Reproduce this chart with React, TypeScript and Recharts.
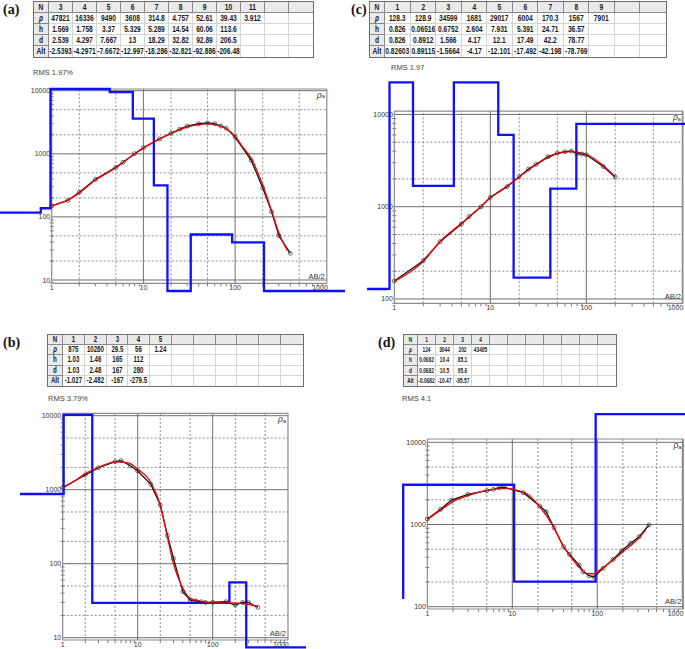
import React from 'react';
import { LineChart, Line, XAxis, YAxis, ReferenceLine, ReferenceDot } from 'recharts';

// ---------- panel (a) ----------
const aLayers = ['3', '4', '5', '6', '7', '8', '9', '10', '11'];
const aRho = ['47821', '16336', '9490', '3608', '314.8', '4.757', '52.61', '39.43', '3.912'];
const aH = ['1.569', '1.758', '3.37', '5.329', '5.289', '14.54', '60.06', '113.6'];
const aD = ['2.539', '4.297', '7.667', '13', '18.29', '32.82', '92.89', '206.5'];
const aAlt = ['-2.5393', '-4.2971', '-7.6672', '-12.997', '-18.286', '-32.821', '-92.886', '-206.48'];
// layers 1-2 are scrolled out of the table
const aHiddenRho = [117, 137];
const aHiddenD = [0.76, 0.97];
const aObsX = [1, 1.5, 2, 3, 5, 6, 8, 10, 15, 20, 25, 30, 40, 50, 60, 70, 80, 100, 150, 200, 250, 300, 400];
const aObsY = [150, 182, 245, 394, 610, 732, 1005, 1250, 1716, 2109, 2470, 2756, 3004, 3077, 3004, 2756, 2535, 1845, 787, 290, 121, 50.5, 26.5];
const aFitX = [1, 1.5, 2, 3, 5, 8, 10, 15, 20, 30, 40, 50, 60, 80, 100, 120, 150, 200, 250, 300, 372];
const aFitY = [150, 185, 240, 385, 600, 990, 1230, 1720, 2100, 2650, 2900, 2980, 2900, 2500, 1900, 1300, 850, 320, 125, 56, 29];

// ---------- panel (b) ----------
const bLayers = ['1', '2', '3', '4', '5'];
const bRho = ['875', '10280', '29.5', '56', '1.24'];
const bH = ['1.03', '1.46', '165', '112'];
const bD = ['1.03', '2.48', '167', '280'];
const bAlt = ['-1.027', '-2.482', '-167', '-279.5'];
const bObsX = [1, 2, 3, 5, 6, 8, 10, 15, 20, 25, 30, 40, 50, 60, 70, 80, 100, 150, 200, 250, 300, 400];
const bObsY = [1065, 1580, 1980, 2390, 2470, 2110, 1790, 1180, 620, 240, 118, 42, 32.3, 31.3, 30.6, 30, 30, 30.6, 27.6, 30, 30, 25.7];
const bFitX = [1, 1.5, 2, 3, 5, 7.5, 10, 15, 20, 25, 30, 38, 50, 70, 110, 190, 280, 400];
const bFitY = [1050, 1350, 1650, 2000, 2380, 2300, 1900, 1250, 620, 225, 100, 52, 34, 31, 29.5, 29.5, 28.5, 26.5];

// ---------- panel (c) ----------
const cLayers = ['1', '2', '3', '4', '5', '6', '7', '8', '9'];
const cRho = ['128.3', '128.9', '34599', '1681', '29017', '6004', '170.3', '1567', '7901'];
const cH = ['0.826', '0.06516', '0.6752', '2.604', '7.931', '5.391', '24.71', '36.57'];
const cD = ['0.826', '0.8912', '1.566', '4.17', '12.1', '17.49', '42.2', '78.77'];
const cAlt = ['0.82603', '0.89115', '-1.5664', '-4.17', '-12.101', '-17.492', '-42.198', '-78.769'];
const cObsX = [1, 2, 3, 5, 6, 8, 10, 15, 20, 25, 30, 40, 50, 60, 70, 80, 90, 100, 150, 200];
const cObsY = [157, 260, 418, 649, 780, 1000, 1262, 1650, 2115, 2560, 2875, 3487, 3816, 3945, 4010, 3760, 3717, 3650, 2730, 2090];
const cFitX = [1, 1.5, 2, 3, 5, 8, 10, 15, 20, 30, 40, 50, 70, 100, 150, 200];
const cFitY = [155, 200, 255, 420, 660, 1000, 1250, 1680, 2100, 2850, 3400, 3750, 3950, 3700, 2800, 2120];

// ---------- panel (d) ----------
const dLayers = ['1', '2', '3', '4'];
const dRho = ['124', '3044', '202', '43495'];
const dH = ['0.0682', '10.4', '85.1'];
const dD = ['0.0682', '10.5', '95.6'];
const dAlt = ['-0.0682', '-10.47', '-95.57'];
const dObsX = [1, 1.43, 1.93, 3, 5, 6, 7, 8, 13.5, 21, 25, 31, 40, 47, 61, 68, 80, 91, 117, 154, 193, 246, 311, 405];
const dObsY = [1166, 1531, 1986, 2327, 2580, 2680, 2805, 2850, 2439, 1678, 1432, 914, 537, 434, 321, 267, 238, 230, 293, 377, 476, 590, 711, 986];
const dFitX = [1, 1.5, 2, 3, 5, 8, 10, 15, 20, 30, 40, 50, 60, 75, 90, 100, 150, 200, 300, 370];
const dFitY = [1150, 1550, 1900, 2250, 2600, 2750, 2680, 2350, 1750, 960, 540, 390, 307, 255, 252, 267, 363, 467, 666, 857];

// axis ticks / grid
const xDecades = [1, 10, 100, 1000];
const xDashed = [2, 5, 20, 50, 200, 500];
const yDecadesLow = [10, 100, 1000, 10000];
const yDashedLow = [20, 50, 200, 500, 2000, 5000];
const yDecadesHigh = [100, 1000, 10000];
const yDashedHigh = [200, 500, 2000, 5000];
const minorSteps = [2, 3, 4, 5, 6, 7, 8, 9];

type Pt = { x: number; y: number };
const zip = (xs: number[], ys: number[]): Pt[] => xs.map((x, i) => ({ x, y: ys[i] }));

function stepModel(rho: number[], depth: number[], xs: number[], clamp: number[]): Pt[] {
  const c = (v: number) => Math.min(Math.max(v, clamp[0]), clamp[1]);
  const pts: Pt[] = [{ x: xs[0], y: c(rho[0]) }];
  depth.forEach((d, i) => pts.push({ x: Math.max(d, xs[0]), y: c(rho[i + 1]) }));
  pts.push({ x: xs[1], y: c(rho[rho.length - 1]) });
  return pts;
}

type PanelCfg = {
  left: number; top: number; width: number; height: number;
  xDomain: number[]; yDomain: number[];
  clamp: number[]; blueX: number[];
  frameX: number[]; frameY: number[];
  yDecades: number[]; yDashed: number[];
};

const cfgA: PanelCfg = {
  left: 0, top: 86, width: 345, height: 208,
  xDomain: [0.273, 1579], yDomain: [6.0, 11870],
  clamp: [6.69, 10640], blueX: [0.273, 1579],
  frameX: [1, 1000], frameY: [8.87, 10640],
  yDecades: yDecadesLow, yDashed: yDashedLow,
};
const cfgB: PanelCfg = {
  left: 18, top: 410, width: 288, height: 239,
  xDomain: [0.2535, 1754], yDomain: [7.04, 11940],
  clamp: [7.42, 10770], blueX: [0.27, 1754],
  frameX: [1, 1009], frameY: [9.31, 10770],
  yDecades: yDecadesLow, yDashed: yDashedLow,
};
const cfgC: PanelCfg = {
  left: 365, top: 80, width: 320, height: 232,
  xDomain: [0.495, 1067], yDomain: [72.3, 23590],
  clamp: [89.8, 22280], blueX: [0.52, 1067],
  frameX: [1, 1015], frameY: [89.8, 10860],
  yDecades: yDecadesHigh, yDashed: yDashedHigh,
};
const cfgD: PanelCfg = {
  left: 401, top: 411, width: 284, height: 209,
  xDomain: [0.49, 1076], yDomain: [68.9, 24040],
  clamp: [93.8, 22080], blueX: [0.52, 1076],
  frameX: [1, 1028], frameY: [93.8, 10970],
  yDecades: yDecadesHigh, yDashed: yDashedHigh,
};

const num = (a: string[]) => a.map(Number);

const GRID = '#6f6f6f';
const FRAME = '#8c8c8c';
const LABEL_FONT = '"Liberation Sans", Arial, sans-serif';

function decorations(p: PanelCfg) {
  const [fx0, fx1] = p.frameX;
  const [fy0, fy1] = p.frameY;
  const pxX = p.width / Math.log10(p.xDomain[1] / p.xDomain[0]);
  const pxY = p.height / Math.log10(p.yDomain[1] / p.yDomain[0]);
  const inX = (v: number) => v > fx0 * 1.01 && v < fx1 / 1.01;
  const inY = (v: number) => v > fy0 * 1.01 && v < fy1 / 1.01;
  const els: React.ReactElement[] = [];
  let k = 0;
  const seg = (a: Pt, b: Pt, stroke: string, w: number, dash?: string) =>
    els.push(
      <ReferenceLine key={'s' + k++} segment={[a, b]} stroke={stroke} strokeWidth={w} strokeDasharray={dash} ifOverflow="visible" />
    );

  xDashed.filter(inX).forEach((v) => seg({ x: v, y: fy0 }, { x: v, y: fy1 }, GRID, 0.8, '2 2'));
  p.yDashed.filter(inY).forEach((v) => seg({ x: fx0, y: v }, { x: fx1, y: v }, GRID, 0.8, '2 2'));
  xDecades.filter(inX).forEach((v) => seg({ x: v, y: fy0 }, { x: v, y: fy1 }, GRID, 1));
  p.yDecades.filter(inY).forEach((v) => seg({ x: fx0, y: v }, { x: fx1, y: v }, GRID, 1));

  // minor ticks
  const fx = Math.pow(10, 2 / pxX);
  const fy = Math.pow(10, 3 / pxY);
  xDecades.forEach((dec) =>
    minorSteps.forEach((m) => {
      const v = dec * m;
      if (v > fx0 && v < fx1) seg({ x: v, y: fy0 }, { x: v, y: fy0 / fy }, '#555', 0.8);
    })
  );
  [1, 10, 100, 1000].forEach((dec) =>
    minorSteps.forEach((m) => {
      const v = dec * m;
      if (v > fy0 && v < fy1) seg({ x: fx0 / fx, y: v }, { x: fx0 * fx, y: v }, '#555', 0.8);
    })
  );

  // frame
  seg({ x: fx0, y: fy0 }, { x: fx1, y: fy0 }, FRAME, 1.2);
  seg({ x: fx0, y: fy1 }, { x: fx1, y: fy1 }, FRAME, 1.2);
  seg({ x: fx0, y: fy0 }, { x: fx0, y: fy1 }, FRAME, 1.2);
  seg({ x: fx1, y: fy0 }, { x: fx1, y: fy1 }, FRAME, 1.2);
  return els;
}

function labels(p: PanelCfg) {
  const [fx0, fx1] = p.frameX;
  const [fy0, fy1] = p.frameY;
  const els: React.ReactElement[] = [];
  let k = 0;
  const dot = (x: number, y: number, draw: (cx: number, cy: number) => React.ReactElement) =>
    els.push(<ReferenceDot key={'l' + k++} x={x} y={y} r={0} ifOverflow="visible" shape={(pp: any) => draw(pp.cx, pp.cy)} />);
  const txt = { fontFamily: LABEL_FONT, fontSize: 7, fill: '#333' };

  p.yDecades.forEach((v) =>
    dot(fx0, v, (cx, cy) => (
      <text x={cx - 1.5} y={cy} textAnchor="end" dominantBaseline="central" {...txt}>{String(v)}</text>
    ))
  );
  xDecades.forEach((v, i) =>
    dot(v, fy0, (cx, cy) => (
      <text x={i === xDecades.length - 1 ? cx + 1 : cx} y={cy + 4.5} textAnchor={i === xDecades.length - 1 ? 'end' : 'middle'} dominantBaseline="central" {...txt}>{String(v)}</text>
    ))
  );
  dot(fx1, fy1, (cx, cy) => (
    <text x={cx - 2} y={cy + 6} textAnchor="end" dominantBaseline="central" fontFamily={LABEL_FONT} fontSize={8.5} fill="#333">
      <tspan fontStyle="italic">ρ</tspan>
      <tspan fontSize={5.5} dy={1.5}>a</tspan>
    </text>
  ));
  dot(fx1, fy0, (cx, cy) => (
    <text x={cx - 2} y={cy - 7} textAnchor="end" dominantBaseline="central" {...txt} fontSize={7.5}>AB/2</text>
  ));
  return els;
}

function SoundingChart({ cfg, rho, depth, obsX, obsY, fitX, fitY }: {
  cfg: PanelCfg; rho: number[]; depth: number[];
  obsX: number[]; obsY: number[]; fitX: number[]; fitY: number[];
}) {
  const blue = stepModel(rho, depth, cfg.blueX, cfg.clamp);
  return (
    <div style={{ position: 'absolute', left: cfg.left, top: cfg.top }}>
      <LineChart width={cfg.width} height={cfg.height} margin={{ top: 0, right: 0, bottom: 0, left: 0 }}>
        <XAxis type="number" dataKey="x" scale="log" domain={cfg.xDomain} allowDataOverflow hide height={0} />
        <YAxis type="number" dataKey="y" scale="log" domain={cfg.yDomain} allowDataOverflow hide width={0} />
        {decorations(cfg)}
        <Line data={blue} dataKey="y" type="stepAfter" stroke="#1010ff" strokeWidth={2.3} dot={false} isAnimationActive={false} />
        <Line
          data={zip(obsX, obsY)}
          dataKey="y"
          type="linear"
          stroke="#111"
          strokeWidth={1.3}
          dot={{ r: 2, stroke: '#333', strokeWidth: 0.7, fill: 'none' }}
          isAnimationActive={false}
        />
        <Line data={zip(fitX, fitY)} dataKey="y" type="monotone" stroke="#ff0000" strokeWidth={1.3} dot={false} isAnimationActive={false} />
        {labels(cfg)}
      </LineChart>
    </div>
  );
}

type TableSpec = {
  left: number; top: number; headW: number; colW: number; rowH: number; fontSize: number; squeeze: number;
  layers: string[]; rho: string[]; h: string[]; d: string[]; alt: string[];
};

function ParamTable({ t }: { t: TableSpec }) {
  const nCols = 11;
  const rows: [string, string[]][] = [
    ['N', t.layers], ['ρ', t.rho], ['h', t.h], ['d', t.d], ['Alt', t.alt],
  ];
  const squeezed = (s: string, w: number) => (
    <span
      style={{
        display: 'block', width: w / t.squeeze, transform: `scaleX(${t.squeeze})`, transformOrigin: '0 50%',
        textAlign: 'center', whiteSpace: 'nowrap',
      }}
    >
      {s}
    </span>
  );
  return (
    <div
      style={{
        position: 'absolute', left: t.left, top: t.top,
        width: t.headW + nCols * t.colW, border: '1px solid #6e6e6e',
        background: '#fff', fontFamily: LABEL_FONT, fontSize: t.fontSize, fontWeight: 'bold', color: '#1a1a1a',
      }}
    >
      {rows.map(([name, vals], r) => (
        <div key={name} style={{ display: 'flex', height: t.rowH }}>
          <div
            style={{
              width: t.headW, flex: 'none', boxSizing: 'border-box', overflow: 'hidden', lineHeight: t.rowH - 1 + 'px',
              background: '#e9e9e9', borderRight: '1px solid #8a8a8a', borderBottom: r < 4 ? '1px solid #8a8a8a' : 'none',
              fontStyle: name === 'ρ' ? 'italic' : 'normal',
            }}
          >
            {squeezed(name, t.headW - 1)}
          </div>
          {Array.from({ length: nCols }, (_, i) => (
            <div
              key={i}
              style={{
                width: t.colW, flex: 'none', boxSizing: 'border-box', overflow: 'hidden', lineHeight: t.rowH - 1 + 'px',
                background: r === 0 ? '#e9e9e9' : '#fff',
                borderRight: i < nCols - 1 ? (r === 0 ? '1px solid #8a8a8a' : '1px solid #d4d4d4') : 'none',
                borderBottom: r < 4 ? (r === 0 ? '1px solid #8a8a8a' : '1px solid #d4d4d4') : 'none',
              }}
            >
              {squeezed(vals[i] ?? '', t.colW - 1)}
            </div>
          ))}
        </div>
      ))}
    </div>
  );
}

const tblA: TableSpec = { left: 33, top: 1, headW: 15, colW: 24, rowH: 11, fontSize: 9, squeeze: 0.74, layers: aLayers, rho: aRho, h: aH, d: aD, alt: aAlt };
const tblB: TableSpec = { left: 47, top: 334, headW: 15, colW: 21.8, rowH: 10.2, fontSize: 8.5, squeeze: 0.72, layers: bLayers, rho: bRho, h: bH, d: bD, alt: bAlt };
const tblC: TableSpec = { left: 369, top: 1, headW: 15, colW: 25.5, rowH: 11, fontSize: 9, squeeze: 0.74, layers: cLayers, rho: cRho, h: cH, d: cD, alt: cAlt };
const tblD: TableSpec = { left: 403, top: 334, headW: 14, colW: 18, rowH: 10.2, fontSize: 8, squeeze: 0.6, layers: dLayers, rho: dRho, h: dH, d: dD, alt: dAlt };

const panelLabel = (text: string, left: number, top: number) => (
  <div style={{ position: 'absolute', left, top, fontFamily: '"Liberation Serif", "Times New Roman", serif', fontWeight: 'bold', fontSize: 14, lineHeight: '16px', color: '#111' }}>
    {text}
  </div>
);
const rmsLabel = (text: string, left: number, top: number) => (
  <div style={{ position: 'absolute', left, top, fontFamily: LABEL_FONT, fontSize: 7.5, lineHeight: '10px', color: '#444' }}>
    {text}
  </div>
);

export default function App() {
  return (
    <div style={{ position: 'absolute', left: 0, top: 0, width: 685, height: 649, background: '#fff', overflow: 'hidden' }}>
      {panelLabel('(a)', 3, 2)}
      {panelLabel('(c)', 351, 2)}
      {panelLabel('(b)', 3, 335)}
      {panelLabel('(d)', 378, 335)}

      <ParamTable t={tblA} />
      <ParamTable t={tblC} />
      <ParamTable t={tblB} />
      <ParamTable t={tblD} />

      {rmsLabel('RMS 1.97%', 33, 68)}
      {rmsLabel('RMS 1.97', 391, 63)}
      {rmsLabel('RMS 3.79%', 48, 394)}
      {rmsLabel('RMS 4.1', 402, 394)}

      <SoundingChart cfg={cfgA} rho={[...aHiddenRho, ...num(aRho)]} depth={[...aHiddenD, ...num(aD)]} obsX={aObsX} obsY={aObsY} fitX={aFitX} fitY={aFitY} />
      <SoundingChart cfg={cfgB} rho={num(bRho)} depth={num(bD)} obsX={bObsX} obsY={bObsY} fitX={bFitX} fitY={bFitY} />
      <SoundingChart cfg={cfgC} rho={num(cRho)} depth={num(cD)} obsX={cObsX} obsY={cObsY} fitX={cFitX} fitY={cFitY} />
      <SoundingChart cfg={cfgD} rho={num(dRho)} depth={num(dD)} obsX={dObsX} obsY={dObsY} fitX={dFitX} fitY={dFitY} />
    </div>
  );
}
